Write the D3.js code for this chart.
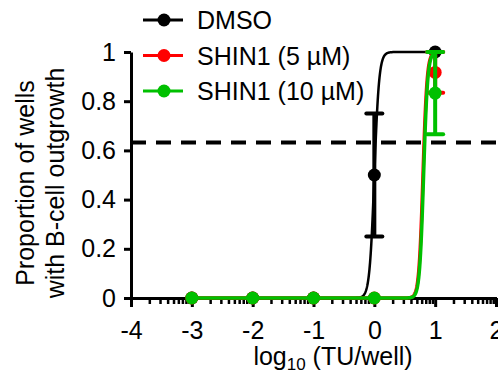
<!DOCTYPE html>
<html>
<head>
<meta charset="utf-8">
<script src="https://cdn.jsdelivr.net/npm/d3@7"></script>
<style>
  html, body { margin: 0; padding: 0; background: #fff; }
  svg { display: block; }
  text { font-family: "Liberation Sans", Arial, sans-serif; fill: #000; }
</style>
</head>
<body>
<svg id="chart" width="498" height="375"></svg>
<script>
// Dose (log10 TU/well) and mean proportion of wells with outgrowth, with SEM
const doses = [-3, -2, -1, 0, 1];
const seriesNames = ["DMSO", "SHIN1 (5 \u00b5M)", "SHIN1 (10 \u00b5M)"];
const seriesColors = ["#000000", "#ff0000", "#00c000"];
const dmsoMean = [0, 0, 0, 0.5, 1];
const dmsoErr = [0, 0, 0, 0.25, 0];
const shin5Mean = [0, 0, 0, 0, 0.917];
const shin5Err = [0, 0, 0, 0, 0.083];
const shin10Mean = [0, 0, 0, 0, 0.833];
const shin10Err = [0, 0, 0, 0, 0.167];
// Hill fit parameters for each series (bottom 0, top 1)
const fitLogEC50 = [0.0, 0.80, 0.81];
const fitHillSlope = [11, 13, 13];
const fitRange = [-3, 1];
// Threshold line (1 - 1/e)
const threshold = 0.632;
const xTicks = [-4, -3, -2, -1, 0, 1, 2];
const yTicks = [0, 0.2, 0.4, 0.6, 0.8, 1];

const means = [dmsoMean, shin5Mean, shin10Mean];
const errs = [dmsoErr, shin5Err, shin10Err];

const svg = d3.select("#chart");
const x = d3.scaleLinear().domain([-4, 2]).range([131, 496]);
const y = d3.scaleLinear().domain([0, 1]).range([298, 52]);
const FS = 25;

// Threshold dashed line
svg.append("line")
  .attr("x1", x(-4)).attr("x2", 498)
  .attr("y1", y(threshold)).attr("y2", y(threshold))
  .attr("stroke", "#000").attr("stroke-width", 4)
  .attr("stroke-dasharray", "15,10");

// Axes
const minorTicks = [];
for (let d = -4; d < 2; d++) {
  for (let k = 2; k <= 9; k++) minorTicks.push(d + Math.log10(k));
}
const xMinor = svg.append("g").attr("transform", `translate(0,${y(0)})`)
  .call(d3.axisBottom(x).tickValues(minorTicks).tickSize(6).tickFormat(""));
xMinor.select(".domain").remove();
xMinor.selectAll("line").attr("stroke-width", 2.5);

const xAxis = svg.append("g").attr("transform", `translate(0,${y(0)})`)
  .call(d3.axisBottom(x).tickValues(xTicks).tickSize(9).tickSizeOuter(0).tickPadding(14));
xAxis.select(".domain").attr("stroke-width", 3).attr("d", `M${x(-4) - 6},0.5H${x(2) + 1}`);
xAxis.selectAll("line").attr("stroke-width", 3);
xAxis.selectAll("text").attr("font-size", FS)
  .style("font-family", "Liberation Sans, Arial, sans-serif")
  .text(d => d < 0 ? "-" + Math.abs(d) : d);

const yAxis = svg.append("g").attr("transform", `translate(${x(-4)},0)`)
  .call(d3.axisLeft(y).tickValues(yTicks).tickSize(7).tickSizeOuter(0).tickPadding(8)
    .tickFormat(d => (d === 0 || d === 1) ? String(d) : d.toFixed(1)));
yAxis.select(".domain").attr("stroke-width", 3);
yAxis.selectAll("line").attr("stroke-width", 3);
yAxis.selectAll("text").attr("font-size", FS)
  .style("font-family", "Liberation Sans, Arial, sans-serif");

// Axis titles
const yTitle = svg.append("text")
  .attr("transform", "translate(34,183) rotate(-90)")
  .attr("text-anchor", "middle").attr("font-size", FS);
yTitle.append("tspan").attr("x", 0).attr("dy", 0).text("Proportion of wells");
yTitle.append("tspan").attr("x", 0).attr("dy", 30).text("with B-cell outgrowth");

const xTitle = svg.append("text")
  .attr("x", 333).attr("y", 365)
  .attr("text-anchor", "middle").attr("font-size", FS);
xTitle.append("tspan").text("log");
xTitle.append("tspan").attr("font-size", 17).attr("dy", 5).text("10");
xTitle.append("tspan").attr("dy", -5).text(" (TU/well)");

// Fitted curves
const hill = (lx, i) => 1 / (1 + Math.pow(10, (fitLogEC50[i] - lx) * fitHillSlope[i]));
const line = d3.line().x(d => x(d[0])).y(d => y(d[1]));
const sampleX = d3.range(fitRange[0], fitRange[1] + 1e-9, 0.005);

seriesNames.forEach((name, i) => {
  const g = svg.append("g");
  const pts = sampleX.map(lx => [lx, hill(lx, i)]);
  g.append("path").attr("d", line(pts))
    .attr("fill", "none").attr("stroke", seriesColors[i])
    .attr("stroke-width", i === 0 ? 2.5 : 3.5).attr("stroke-linejoin", "round");

  // Error bars
  doses.forEach((dx, j) => {
    const e = errs[i][j];
    if (e <= 0) return;
    const m = means[i][j];
    const top = Math.min(1, m + e), bot = m - e;
    g.append("line").attr("x1", x(dx)).attr("x2", x(dx))
      .attr("y1", y(top)).attr("y2", y(bot))
      .attr("stroke", seriesColors[i]).attr("stroke-width", 4);
    [top, bot].forEach(v => {
      g.append("line").attr("x1", x(dx) - 8).attr("x2", x(dx) + 8)
        .attr("y1", y(v)).attr("y2", y(v))
        .attr("stroke", seriesColors[i]).attr("stroke-width", 4)
        .attr("stroke-linecap", "round");
    });
  });

  // Markers
  g.selectAll("circle").data(doses).join("circle")
    .attr("cx", d => x(d)).attr("cy", (d, j) => y(means[i][j]))
    .attr("r", 6.5).attr("fill", seriesColors[i]);
});

// Legend
const legend = svg.append("g");
seriesNames.forEach((name, i) => {
  const ly = 20 + i * 35.5;
  legend.append("line").attr("x1", 143).attr("x2", 183)
    .attr("y1", ly).attr("y2", ly)
    .attr("stroke", seriesColors[i]).attr("stroke-width", 3);
  legend.append("circle").attr("cx", 164).attr("cy", ly).attr("r", 6.5)
    .attr("fill", seriesColors[i]);
  legend.append("text").attr("x", 197).attr("y", ly + 9)
    .attr("font-size", FS).text(name);
});
</script>
</body>
</html>
